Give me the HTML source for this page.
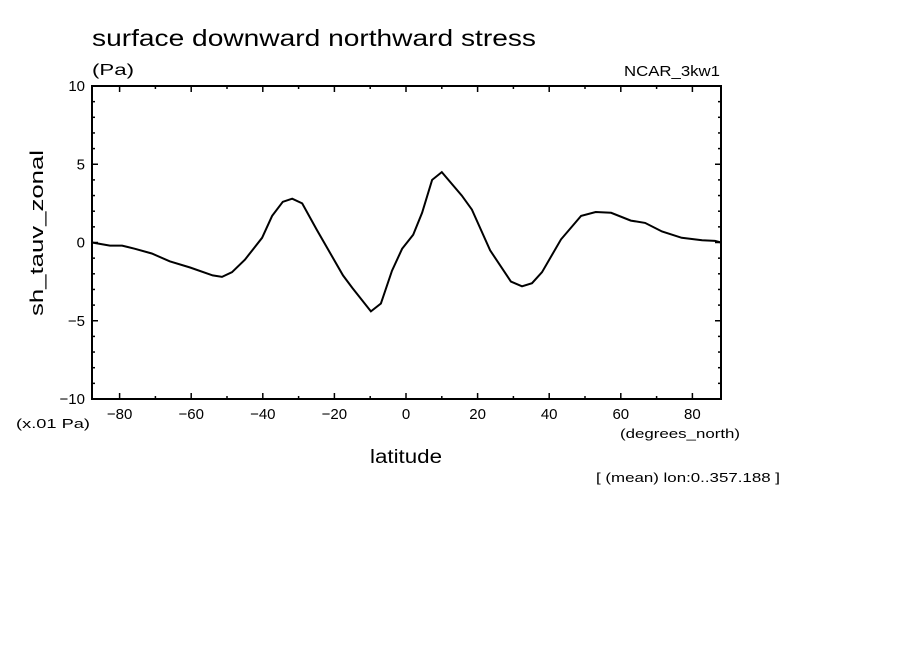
<!DOCTYPE html>
<html><head><meta charset="utf-8"><style>
body{margin:0;background:#fff;}
svg text{font-family:"Liberation Sans",sans-serif;fill:#000;}
</style></head><body>
<svg id="chart" width="904" height="654" viewBox="0 0 904 654" xmlns="http://www.w3.org/2000/svg">
<rect width="904" height="654" fill="#fff"/>
<text x="92" y="46" font-size="23" textLength="444" lengthAdjust="spacingAndGlyphs">surface downward northward stress</text>
<text x="92" y="75" font-size="16" textLength="42" lengthAdjust="spacingAndGlyphs">(Pa)</text>
<text x="624" y="76" font-size="15" textLength="96" lengthAdjust="spacingAndGlyphs">NCAR_3kw1</text>
<text transform="translate(43,316) rotate(-90)" font-size="18" textLength="166" lengthAdjust="spacingAndGlyphs">sh_tauv_zonal</text>
<text x="16" y="428" font-size="13" textLength="74" lengthAdjust="spacingAndGlyphs">(x.01 Pa)</text>
<text x="370" y="463" font-size="19" textLength="72" lengthAdjust="spacingAndGlyphs">latitude</text>
<text x="620" y="438" font-size="13" textLength="120" lengthAdjust="spacingAndGlyphs">(degrees_north)</text>
<text x="596" y="482" font-size="13" textLength="184" lengthAdjust="spacingAndGlyphs">[ (mean) lon:0..357.188 ]</text>
<g id="axes"></g>
<path id="series" fill="none" stroke="#000" stroke-width="2"/>
<rect x="92" y="86" width="629" height="313" fill="none" stroke="#000" stroke-width="2"/>
</svg>
<script>
const lats=[-87.7,-82.7,-79.3,-75.7,-71,-66,-60.3,-54,-51.4,-48.6,-45,-40.2,-37.4,-34.4,-31.8,-29,-24.9,-17.6,-15,-9.8,-7,-3.9,-1.1,2,4.5,7.3,10,15.6,18.4,23.5,29.3,32.4,35.2,38,43.3,48.9,53,57.3,62.8,66.8,71.5,77,82.7,86.3,88];
const vals=[0,-0.2,-0.2,-0.4,-0.7,-1.2,-1.6,-2.1,-2.2,-1.9,-1.1,0.3,1.7,2.6,2.8,2.5,0.8,-2.1,-2.9,-4.4,-3.9,-1.8,-0.4,0.5,1.9,4.0,4.5,3.0,2.1,-0.5,-2.5,-2.8,-2.6,-1.9,0.2,1.7,1.95,1.9,1.4,1.25,0.7,0.3,0.15,0.1,0];
const xTicks=[-80,-60,-40,-20,0,20,40,60,80];
const yTicks=[-10,-5,0,5,10];
const xs=v=>406+(v)*3.58;
const ys=v=>242.5-v*15.65;
const ns="http://www.w3.org/2000/svg";
const g=document.getElementById('axes');
function ln(x1,y1,x2,y2,name){const l=document.createElementNS(ns,'line');
l.setAttribute('x1',x1);l.setAttribute('y1',y1);l.setAttribute('x2',x2);l.setAttribute('y2',y2);
l.setAttribute('stroke','#000');l.setAttribute('stroke-width','1.5');


g.appendChild(l);}
function tx(x,y,s,anchor,name){const t=document.createElementNS(ns,'text');
t.setAttribute('x',x);t.setAttribute('y',y);t.setAttribute('font-size','15');t.setAttribute('text-anchor',anchor);t.textContent=s;


g.appendChild(t);}
for(let v=-80;v<=80;v+=10){const big=v%20===0;const x=xs(v);
ln(x,399,x,399-(big?6:3),'x-tick');ln(x,86,x,86+(big?6:3),'x-tick-top');}
xTicks.forEach(v=>tx(xs(v),419,(v<0?'\u2212':'')+Math.abs(v),'middle','x-tick-label'));
for(let v=-10;v<=10;v++){const big=v%5===0;const y=ys(v);
ln(92,y,92+(big?6:3),y,'y-tick');ln(721,y,721-(big?6:3),y,'y-tick-right');}
yTicks.forEach(v=>tx(85,ys(v)+5,(v<0?'\u2212':'')+Math.abs(v),'end','y-tick-label'));
document.getElementById('series').setAttribute('d',lats.map((a,i)=>(i?'L':'M')+xs(a).toFixed(1)+','+ys(vals[i]).toFixed(1)).join(''));
</script>
</body></html>
